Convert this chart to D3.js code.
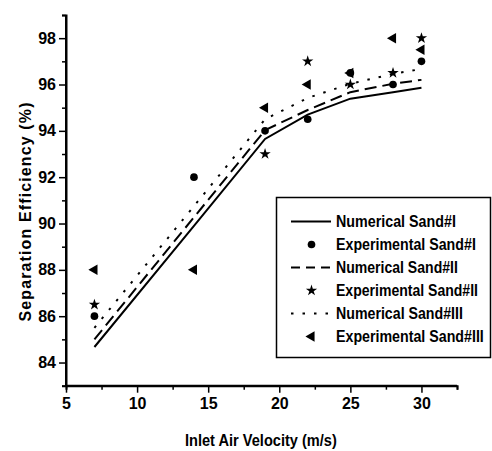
<!DOCTYPE html>
<html>
<head>
<meta charset="utf-8">
<script src="https://cdn.jsdelivr.net/npm/d3@7"></script>
<style>
  body { margin: 0; background: #fff; }
  svg text { font-family: "Liberation Sans", Arial, sans-serif; font-weight: bold; fill: #000; }
</style>
</head>
<body>
<svg width="492" height="451"></svg>
<script>
// inlet air velocity (m/s)
const velocity = [7, 14, 19, 22, 25, 28, 30]

// numerical curves
const numSand1 = [84.67, 89.9, 93.65, 94.7, 95.39, 95.67, 95.86]
const numSand2 = [85.0, 90.27, 94.03, 94.9, 95.67, 96.03, 96.2]
const numSand3 = [85.5, 90.75, 94.5, 95.42, 96.03, 96.46, 96.67]

// experimental points (null = not shown)
const expSand1 = [86, 92, 94, 94.5, 96.5, 96, 97]
const expSand2 = [86.5, null, 93, 97, 96, 96.5, 98]
const expSand3 = [88, 88, 95, 96, 96.5, 98, 97.5]

const xTicks = [5, 10, 15, 20, 25, 30]
const yTicks = [84, 86, 88, 90, 92, 94, 96, 98]

const legendLabels = [
	'Numerical Sand#I', 'Experimental Sand#I',
	'Numerical Sand#II', 'Experimental Sand#II',
	'Numerical Sand#III', 'Experimental Sand#III'
]
// the reference font is a narrow one, squeeze labels to its widths
const legendWidths = [120, 140, 122, 142, 127, 148]

const svg = d3.select('svg')

const x = d3.scaleLinear().domain([5, 32.5]).range([66, 457])
const y = d3.scaleLinear().domain([83, 99]).range([385.7, 15])

// squeeze a text horizontally to a given width (anchor is start)
function squeeze (g, width) {
	const t = g.select('text')
	const w = t.node().getComputedTextLength()
	t.attr('transform', `scale(${width / w},1)`)
}

// ------- AXES ------- //

const xAxis = svg.append('g').attr('transform', 'translate(0,385.7)')
xAxis.call(d3.axisBottom(x).tickValues(xTicks).tickSize(7).tickPadding(5))
xAxis.append('g').call(d3.axisBottom(x).tickValues(d3.range(7.5, 33, 5)).tickSize(4).tickFormat(''))

const yAxis = svg.append('g').attr('transform', 'translate(66,0)')
yAxis.call(d3.axisLeft(y).tickValues(yTicks).tickSize(7).tickPadding(3))
yAxis.append('g').call(d3.axisLeft(y).tickValues(d3.range(83, 100, 2)).tickSize(4).tickFormat(''))

svg.selectAll('.domain').attr('stroke', '#000').attr('stroke-width', 2)
svg.selectAll('.tick line').attr('stroke', '#000').attr('stroke-width', 1.5)
svg.selectAll('.tick text').style('font-size', '16px')

// plain axis lines, no end caps
xAxis.select('.domain').attr('d', `M${x(5)},0H${x(32.5)}`)
yAxis.select('.domain').attr('d', `M0,${y(83)}V${y(99)}`)

const xTitle = svg.append('g').attr('transform', 'translate(185,446)')
xTitle.append('text')
	.style('font-size', '16px')
	.text('Inlet Air Velocity (m/s)')
squeeze(xTitle, 152)

svg.append('text')
	.attr('transform', 'translate(31,212) rotate(-90)')
	.attr('text-anchor', 'middle')
	.attr('textLength', 219)
	.attr('lengthAdjust', 'spacing')
	.style('font-size', '16px')
	.text('Separation Efficiency (%)')

// ------- LINES ------- //

const lineStyles = [
	{ values: numSand1, dash: null },
	{ values: numSand2, dash: '12,6' },
	{ values: numSand3, dash: '2.5,9' }
]

const line = d3.line()
	.x((d, i) => x(velocity[i]))
	.y(d => y(d))

svg.append('g').selectAll('path')
	.data(lineStyles)
	.enter().append('path')
	.attr('d', d => line(d.values))
	.attr('fill', 'none')
	.attr('stroke', '#000')
	.attr('stroke-width', 2)
	.attr('stroke-dasharray', d => d.dash)

// ------- MARKERS ------- //

const circleSym = d3.symbol().type(d3.symbolCircle).size(46)
const starSym = d3.symbol().type(d3.symbolStar).size(40)
const triSym = d3.symbol().type(d3.symbolTriangle).size(48)

function markers (values, sym, rotate) {
	svg.append('g').selectAll('path')
		.data(values.map((v, i) => ({ x: velocity[i], v })).filter(d => d.v !== null))
		.enter().append('path')
		.attr('d', sym)
		.attr('transform', d => `translate(${x(d.x)},${y(d.v)}) rotate(${rotate})`)
		.attr('fill', '#000')
}

markers(expSand2, starSym, 0)
markers(expSand3, triSym, -90)
markers(expSand1, circleSym, 0)

// ------- LEGEND ------- //

const legend = svg.append('g')
legend.append('rect')
	.attr('x', 276.5).attr('y', 197.5)
	.attr('width', 214).attr('height', 160)
	.attr('fill', '#fff')
	.attr('stroke', '#000')
	.attr('stroke-width', 1.5)

const rowY = d3.scalePoint().domain(legendLabels).range([221.5, 336.5])
const legendDash = [null, '9,6', '2.5,9']
const legendSym = [circleSym, starSym, triSym]

legendLabels.forEach((label, i) => {
	const yy = rowY(label)
	const k = Math.floor(i / 2)
	if (i % 2 === 0) {
		legend.append('line')
			.attr('x1', 291).attr('x2', 331)
			.attr('y1', yy).attr('y2', yy)
			.attr('stroke', '#000').attr('stroke-width', 2)
			.attr('stroke-dasharray', legendDash[k])
	} else {
		legend.append('path')
			.attr('d', legendSym[k])
			.attr('transform', `translate(311.5,${yy}) rotate(${k === 2 ? -90 : 0})`)
			.attr('fill', '#000')
	}
	const g = legend.append('g').attr('transform', `translate(336,${yy})`)
	g.append('text')
		.attr('dy', '0.36em')
		.style('font-size', '16px')
		.text(label)
	squeeze(g, legendWidths[i])
})
</script>
</body>
</html>
